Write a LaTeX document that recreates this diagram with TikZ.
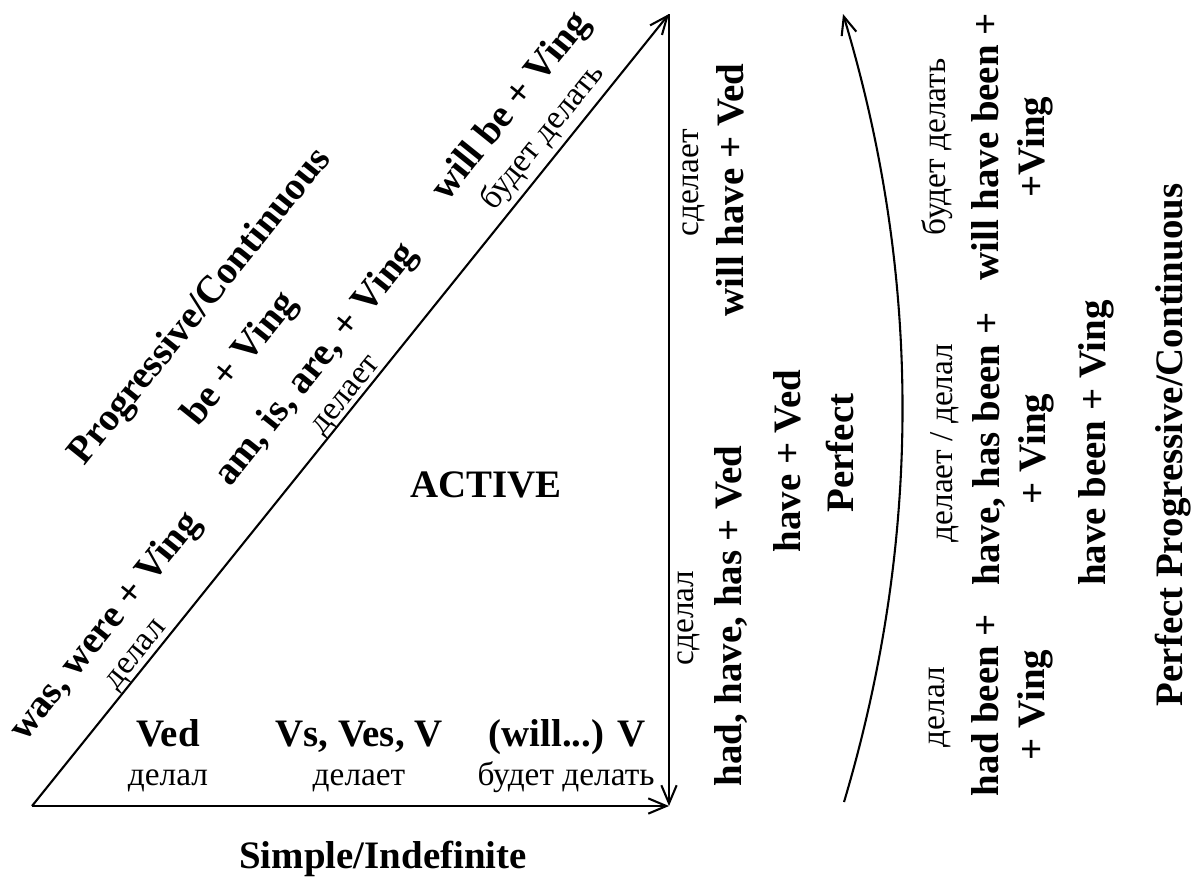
\documentclass[tikz,border=0pt]{standalone}
\usepackage{fontspec}
\setmainfont{Liberation Serif}
\usepackage{tikz}
\usetikzlibrary{arrows.meta}

\begin{document}
\begin{tikzpicture}[x=0.36pt, y=-0.36pt, line width=0.75pt,
    >={Straight Barb[length=6.5pt,width=5.5pt]},
    every node/.style={inner sep=0pt},
    en/.style={font=\fontsize{14}{16.5}\selectfont\bfseries, align=center},
    ru/.style={font=\fontsize{12}{14}\selectfont},
    diag/.style={rotate=51.2},
    vert/.style={rotate=90, anchor=base}]
    \useasboundingbox (0,0) rectangle (1194,878);

    % Triangle
    \coordinate (bl) at (32,806);
    \coordinate (br) at (669,806);
    \coordinate (tr) at (669,14);
    \draw[->] (bl) -- (br);
    \draw[->] (bl) -- (tr);
    \draw[->] (tr) -- (br);

    % Curved arrow
    \coordinate (cb) at (844,802);
    \coordinate (ct) at (843,14);
    \draw[->] (cb) .. controls (922,540) and (922,276) .. (ct);

    % Simple
    \node[en, anchor=base] (simple) at (383,868) {Simple/Indefinite};
    \node[en, anchor=base] (active) at (486,497) {ACTIVE};
    \node[en, anchor=base] (s1) at (168,746) {Ved};
    \node[en, anchor=base] (s2) at (359,746) {Vs, Ves, V};
    \node[en, anchor=base] (s3) at (567,746) {(will...) V};
    \node[ru, anchor=base] (s1r) at (168,785) {делал};
    \node[ru, anchor=base] (s2r) at (359,785) {делает};
    \node[ru, anchor=base] (s3r) at (566,785) {будет делать};

    % Continuous
    \node[en, diag] (c0) at (201,307) {Progressive/Continuous};
    \node[en, diag] (c) at (241,360) {be + Ving};
    \node[en, diag] (c1) at (106,627) {was, were + Ving};
    \node[ru, diag] (c1r) at (138,656) {делал};
    \node[en, diag] (c2) at (317,365) {am, is, are, + Ving};
    \node[ru, diag] (c2r) at (348,397) {делает};
    \node[en, diag] (c3) at (512,107) {will be + Ving};
    \node[ru, diag] (c3r) at (543,137) {будет делать};

    % Perfect
    \node[en, vert] (p1) at (741,616) {had, have, has + Ved};
    \node[ru, vert] (p1r) at (693,618) {сделал};
    \node[en, vert] (p3) at (743,190) {will have + Ved};
    \node[ru, vert] (p3r) at (698,183) {сделает};
    \node[en, vert] (p) at (800,461) {have + Ved};
    \node[en, vert] (p0) at (853,453) {Perfect};

    % Perfect Progressive (base = last line)
    \node[en, vert] (q1) at (1044,705) {had been +\\+ Ving};
    \node[ru, vert] (q1r) at (944,707) {делал};
    \node[en, vert] (q2) at (1045,449) {have, has been +\\+ Ving};
    \node[ru, vert] (q2r) at (952,443) {делает / делал};
    \node[en, vert] (q3) at (1044,147) {will have been +\\+Ving};
    \node[ru, vert] (q3r) at (945,147) {будет делать};
    \node[en, vert] (q) at (1105,443) {have been + Ving};
    \node[en, vert] (q0) at (1182,445) {Perfect Progressive/Continuous};
\end{tikzpicture}
\end{document}
